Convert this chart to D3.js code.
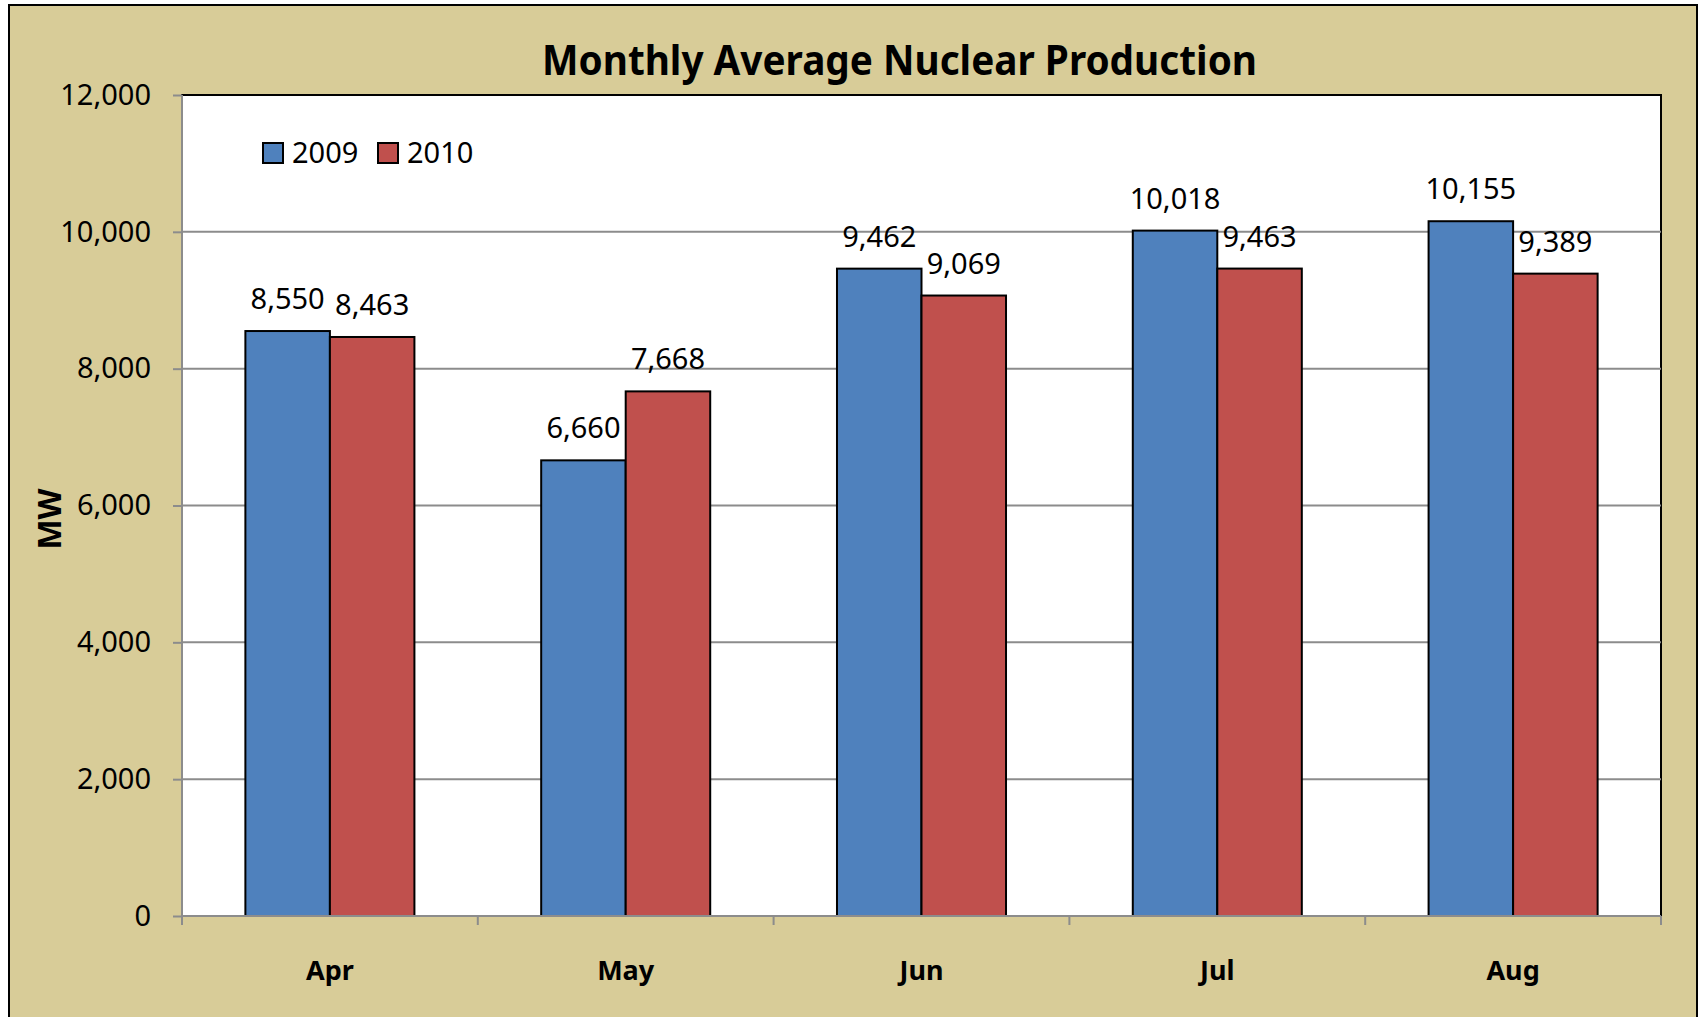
<!DOCTYPE html>
<html lang="en">
<head>
  <meta charset="UTF-8">
  <title>Monthly Average Nuclear Production</title>
  <script src="https://d3js.org/d3.v7.min.js"></script>
  <style>
    body {
      margin: 0;
      background: #fff;
      font-family: "Noto Sans", "Open Sans", Arial, sans-serif;
    }
    svg { display: block; }
  </style>
</head>
<body>
  <svg id="chart"></svg>

  <script>
    // chart data
    const months = ["Apr", "May", "Jun", "Jul", "Aug"];
    const series = ["2009", "2010"];
    const values2009 = [8550, 6660, 9462, 10018, 10155];
    const values2010 = [8463, 7668, 9069, 9463, 9389];
    const yTicks = [0, 2000, 4000, 6000, 8000, 10000, 12000];

    const colors = { "2009": "#4f81bd", "2010": "#c0504d" };

    const W = 1698, H = 1017;
    const plot = { left: 182, top: 95, right: 1661, bottom: 916 };

    const svg = d3.select("#chart").attr("width", W).attr("height", H);

    // outer chart area
    svg.append("rect")
      .attr("x", 9).attr("y", 5)
      .attr("width", 1688).attr("height", 1040)
      .attr("fill", "#d8cc98")
      .attr("stroke", "#000")
      .attr("stroke-width", 2);

    // plot area
    svg.append("rect")
      .attr("x", plot.left).attr("y", plot.top)
      .attr("width", plot.right - plot.left)
      .attr("height", plot.bottom - plot.top)
      .attr("fill", "#fff")
      .attr("stroke", "#000")
      .attr("stroke-width", 2);

    const x0 = d3.scaleBand()
      .domain(months)
      .range([plot.left, plot.right]);

    // Excel-style gap width 150%
    const x1 = d3.scaleBand()
      .domain(series)
      .range([0, x0.bandwidth()])
      .paddingOuter(0.75)
      .paddingInner(0);

    const y = d3.scaleLinear()
      .domain([0, 12000])
      .range([plot.bottom, plot.top]);

    const fmt = d3.format(",");

    // gridlines
    svg.append("g")
      .selectAll("line")
      .data(yTicks.filter(d => d > 0 && d < 12000))
      .enter().append("line")
      .attr("x1", plot.left).attr("x2", plot.right)
      .attr("y1", d => y(d)).attr("y2", d => y(d))
      .attr("stroke", "#8c8c8c")
      .attr("stroke-width", 2);

    // y axis
    const yAxis = svg.append("g")
      .attr("transform", `translate(${plot.left},0)`)
      .call(d3.axisLeft(y).tickValues(yTicks).tickFormat(fmt).tickSize(9).tickPadding(22));
    yAxis.select(".domain").attr("stroke", "#8c8c8c").attr("stroke-width", 2).attr("d", `M0,${plot.top}V${plot.bottom}`);
    yAxis.selectAll(".tick line").attr("stroke", "#8c8c8c").attr("stroke-width", 2);
    yAxis.selectAll(".tick text")
      .attr("fill", "#000")
      .style("font-family", "'Noto Sans', sans-serif")
      .style("font-size", "29px");

    // bars
    const data = months.map((m, i) => ({ month: m, vals: [
      { key: "2009", value: values2009[i] },
      { key: "2010", value: values2010[i] }
    ] }));

    const groups = svg.append("g")
      .selectAll("g")
      .data(data)
      .enter().append("g")
      .attr("transform", d => `translate(${x0(d.month)},0)`);

    groups.selectAll("rect")
      .data(d => d.vals)
      .enter().append("rect")
      .attr("x", d => x1(d.key))
      .attr("y", d => y(d.value))
      .attr("width", x1.bandwidth())
      .attr("height", d => plot.bottom - y(d.value))
      .attr("fill", d => colors[d.key])
      .attr("stroke", "#000")
      .attr("stroke-width", 2);

    groups.selectAll("text")
      .data(d => d.vals)
      .enter().append("text")
      .attr("x", d => x1(d.key) + x1.bandwidth() / 2)
      .attr("y", d => y(d.value) - 22)
      .attr("text-anchor", "middle")
      .style("font-size", "29px")
      .text(d => fmt(d.value));

    // x axis
    const xTicks = months.map((m, i) => x0(m)).concat([plot.right]);
    const xAxis = svg.append("g");
    xAxis.append("line")
      .attr("x1", plot.left).attr("x2", plot.right)
      .attr("y1", plot.bottom).attr("y2", plot.bottom)
      .attr("stroke", "#8c8c8c").attr("stroke-width", 2);
    xAxis.selectAll(".xtick")
      .data(xTicks)
      .enter().append("line")
      .attr("x1", d => d).attr("x2", d => d)
      .attr("y1", plot.bottom).attr("y2", plot.bottom + 9)
      .attr("stroke", "#8c8c8c").attr("stroke-width", 2);
    xAxis.selectAll(".xlabel")
      .data(months)
      .enter().append("text")
      .attr("x", d => x0(d) + x0.bandwidth() / 2)
      .attr("y", 980)
      .attr("text-anchor", "middle")
      .style("font-size", "27px")
      .style("font-weight", "bold")
      .text(d => d);

    // y axis title
    svg.append("text")
      .attr("transform", "translate(61,519) rotate(-90)")
      .attr("text-anchor", "middle")
      .style("font-size", "32px")
      .style("font-weight", "bold")
      .text("MW");

    // title
    svg.append("text")
      .attr("x", 899.5)
      .attr("y", 75)
      .attr("text-anchor", "middle")
      .attr("textLength", 715)
      .attr("lengthAdjust", "spacingAndGlyphs")
      .style("font-size", "42px")
      .style("font-weight", "bold")
      .text("Monthly Average Nuclear Production");

    // legend
    const legendX = [263, 378];
    const legend = svg.append("g")
      .selectAll("g")
      .data(series)
      .enter().append("g")
      .attr("transform", (d, i) => `translate(${legendX[i]},143)`);
    legend.append("rect")
      .attr("width", 20).attr("height", 20)
      .attr("fill", d => colors[d])
      .attr("stroke", "#000")
      .attr("stroke-width", 2);
    legend.append("text")
      .attr("x", 29).attr("y", 20)
      .style("font-size", "29px")
      .text(d => d);
  </script>
</body>
</html>
